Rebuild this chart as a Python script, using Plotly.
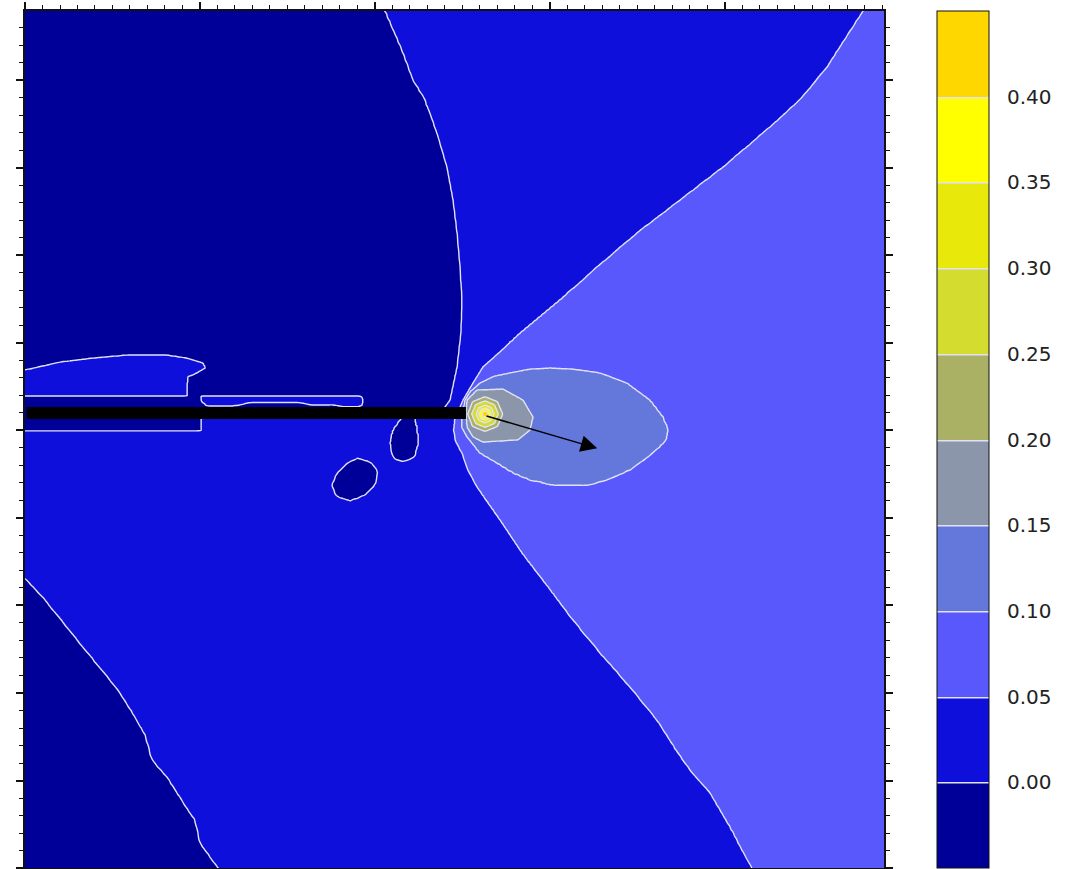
import numpy as np
import plotly.graph_objects as go

# ---------------- levels / colour bands ----------------
level_start, level_end, level_step = 0.00, 0.40, 0.05
z_lo, z_hi = -0.05, 0.45
cbar_ticks = [0.00, 0.05, 0.10, 0.15, 0.20, 0.25, 0.30, 0.35, 0.40]
band_values = [-0.025, 0.025, 0.075, 0.125, 0.175, 0.225, 0.275, 0.325, 0.375, 0.425]
band_colors = ['#000099', '#0f0fdc', '#5858fc', '#6478dc', '#8c96aa',
               '#aab064', '#d4dc30', '#e8e80a', '#ffff00', '#ffd700']
background_band = 1

# ---------------- region outlines (chart units) ----------------
upper_dark_u = [-1, 20.1, 20.57, 21.54, 22.17, 22.86, 23.54, 24.11, 24.46, 24.69, 24.86,
                24.97, 24.91, 24.69, 24.29, 24.0, 24.0, -1]
upper_dark_v = [50, 50, 48.97, 46.74, 45.03, 43.89, 42.0, 40.06, 38.17, 36.29, 34.34,
                32.46, 30.57, 28.63, 26.74, 26.34, 26.0, 26.0]

left_bump_u = [-1, 0, 2.0, 3.89, 5.83, 8.11, 9.26, 10.17, 10.29, 9.83, 9.31, 9.26, 9.26, -1]
left_bump_v = [28.46, 28.46, 28.91, 29.14, 29.31, 29.31, 29.14, 28.86, 28.57, 28.29, 28.06,
               27.6, 26.97, 26.97]

strip_u = [10.06, 19.14, 19.26, 19.3, 19.26, 19.1, 18.17, 17.71, 16.29, 15.71, 12.86, 12.29,
           11.86, 10.4, 10.06]
strip_v = [26.97, 26.97, 26.9, 26.7, 26.45, 26.36, 26.36, 26.46, 26.46, 26.6, 26.6, 26.46,
           26.4, 26.4, 26.7]

dark_box_u = [-1, 10.06, 10.06, -1]
dark_box_v = [26.97, 26.97, 24.97, 24.97]

island_a_u = [21.43, 21.43, 21.03, 20.86, 21.03, 21.6, 22.29, 22.46, 22.4, 22.29, 22.29]
island_a_v = [26.0, 25.6, 25.03, 24.29, 23.43, 23.2, 23.49, 24.29, 25.2, 25.6, 26.0]

island_b_u = [19.03, 19.83, 20.17, 20.0, 19.43, 18.57, 17.77, 17.54, 17.83, 18.4]
island_b_v = [23.43, 23.14, 22.63, 21.89, 21.31, 20.97, 21.26, 21.89, 22.57, 23.14]

lower_dark_u = [-1, 0, 1.14, 2.29, 3.43, 4.29, 5.31, 6.11, 6.86, 7.26, 8.11, 8.69, 9.31,
                9.71, 10.0, 10.4, 11.03, 11.2, -1]
lower_dark_v = [16.57, 16.57, 15.31, 13.89, 12.46, 11.43, 10.17, 8.91, 7.6, 6.17, 5.2, 4.29,
                3.31, 2.74, 1.43, 0.86, 0, -1, -1]

violet_u = [48.6, 47.89, 45.83, 44.29, 42.17, 39.89, 37.43, 34.97, 32.69, 30.57, 28.29, 27.26,
            26.17, 25.6, 25.03, 24.8, 24.55, 24.5, 24.6, 24.97, 25.31, 25.83, 27.14, 28.4,
            29.89, 31.31, 32.86, 34.57, 36.11, 37.31, 38.0, 39.14, 40.29, 40.97, 41.54, 42.1,
            51, 51]
violet_v = [50, 48.97, 45.77, 43.89, 42.0, 40.06, 38.17, 36.29, 34.34, 32.46, 30.57, 29.6,
            28.63, 27.71, 26.74, 26.2, 25.6, 25.0, 24.4, 23.71, 22.74, 21.77, 19.89, 18.0,
            16.06, 14.17, 12.29, 10.34, 8.46, 6.57, 5.6, 4.29, 2.34, 1.03, 0, -1, -1, 50]

ellipse_u = [25.15, 25.43, 26.0, 26.8, 27.71, 28.8, 30.0, 31.4, 32.86, 34.4, 35.71, 36.46,
             36.76, 36.6, 35.9, 34.57, 33.26, 32.1, 30.4, 28.86, 27.9, 26.97, 26.0, 25.26,
             24.95, 24.95]
ellipse_v = [26.74, 27.2, 27.71, 28.1, 28.29, 28.5, 28.57, 28.5, 28.29, 27.71, 26.74, 25.77,
             25.03, 24.4, 23.71, 22.74, 22.17, 21.85, 21.83, 22.17, 22.57, 23.14, 23.71, 24.63,
             25.2, 25.77]

gray_u = [25.2, 25.26, 25.83, 27.31, 28.46, 29.03, 28.86, 28.17, 26.17, 25.6, 25.26]
gray_v = [26.0, 26.74, 27.31, 27.37, 26.74, 25.77, 25.03, 24.46, 24.34, 24.63, 25.2]

olive_u = [27.3, 27.0, 26.29, 25.58, 25.3, 25.58, 26.29, 27.0]
olive_v = [25.94, 26.65, 26.93, 26.65, 25.94, 25.23, 24.95, 25.23]

yg_u = [27.05, 26.83, 26.29, 25.75, 25.53, 25.75, 26.29, 26.83]
yg_v = [25.94, 26.48, 26.7, 26.48, 25.94, 25.4, 25.18, 25.4]

lemon_u = [26.8, 26.65, 26.29, 25.93, 25.78, 25.93, 26.29, 26.65]
lemon_v = [25.94, 26.3, 26.45, 26.3, 25.94, 25.58, 25.43, 25.58]

yellow_u = [26.64, 26.54, 26.29, 26.04, 25.94, 26.04, 26.29, 26.54]
yellow_v = [25.94, 26.19, 26.29, 26.19, 25.94, 25.69, 25.59, 25.69]

gold_u = [26.47, 26.42, 26.29, 26.16, 26.11, 26.16, 26.29, 26.42]
gold_v = [25.94, 26.07, 26.12, 26.07, 25.94, 25.81, 25.76, 25.81]

# crack (black bar) and propagation arrow
crack_u = [0.1, 25.2]
crack_v = [25.66, 26.34]
arrow_tail = [26.29, 25.85]
arrow_head = [32.7, 23.98]

regions = [
    (upper_dark_u, upper_dark_v, 0),
    (left_bump_u, left_bump_v, 1),
    (strip_u, strip_v, 1),
    (dark_box_u, dark_box_v, 0),
    (island_a_u, island_a_v, 0),
    (island_b_u, island_b_v, 0),
    (lower_dark_u, lower_dark_v, 0),
    (violet_u, violet_v, 2),
    (ellipse_u, ellipse_v, 3),
    (gray_u, gray_v, 4),
    (olive_u, olive_v, 5),
    (yg_u, yg_v, 6),
    (lemon_u, lemon_v, 7),
    (yellow_u, yellow_v, 8),
    (gold_u, gold_v, 9),
]


def inside(pu, pv, X, Y):
    pu = np.asarray(pu, float)
    pv = np.asarray(pv, float)
    res = np.zeros(X.shape, bool)
    sel = (X >= pu.min()) & (X <= pu.max()) & (Y >= pv.min()) & (Y <= pv.max())
    xs, ys = X[sel], Y[sel]
    r = np.zeros(xs.shape, bool)
    n = len(pu)
    j = n - 1
    for i in range(n):
        xi, yi, xj, yj = pu[i], pv[i], pu[j], pv[j]
        if yi != yj:
            r ^= ((yi > ys) != (yj > ys)) & (xs < (xj - xi) * (ys - yi) / (yj - yi) + xi)
        j = i
    res[sel] = r
    return res


# sampling grid for the contour table (finer around the crack tip)
gx = np.concatenate([np.arange(-0.2, 23.0, 0.2), np.arange(23.0, 31.0, 0.08),
                     np.arange(31.0, 49.5, 0.2)])
gy = np.concatenate([np.arange(-0.2, 24.0, 0.2), np.arange(24.0, 30.0, 0.06),
                     np.arange(30.0, 49.3, 0.2)])
X, Y = np.meshgrid(gx, gy)
DX, DY = np.meshgrid(np.gradient(gx), np.gradient(gy))
vals = np.array(band_values)
sub = [-0.375, -0.125, 0.125, 0.375]
acc = np.zeros(X.shape)
for ox in sub:
    for oy in sub:
        Xs = X + ox * DX
        Ys = Y + oy * DY
        band = np.full(X.shape, background_band, dtype=int)
        for pu, pv, b in regions:
            band[inside(pu, pv, Xs, Ys)] = b
        acc += vals[band]
z = np.round(acc / len(sub) ** 2, 5)

fig = go.Figure()
fig.add_trace(go.Contour(
    x=np.round(gx, 4), y=np.round(gy, 4), z=z,
    zmin=z_lo, zmax=z_hi, zauto=False,
    autocontour=False,
    contours=dict(start=level_start, end=level_end, size=level_step,
                  coloring='fill', showlines=True),
    colorscale=[[i / (len(band_colors) - 1), c] for i, c in enumerate(band_colors)],
    line=dict(color='rgb(226,226,246)', width=1.4, smoothing=1),
    hoverinfo='skip',
    colorbar=dict(
        x=1.0617, xanchor='left', xpad=0, y=0.5, yanchor='middle', ypad=0,
        len=1, lenmode='fraction', thickness=52, thicknessmode='pixels',
        outlinewidth=1, outlinecolor='#111',
        tickmode='array', tickvals=cbar_ticks,
        ticktext=[f'{t:.2f}' for t in cbar_ticks],
        ticks='outside', ticklen=14, tickcolor='rgba(0,0,0,0)',
        tickfont=dict(family='DejaVu Sans', size=20, color='#222'),
    ),
))

fig.add_shape(type='rect', xref='x', yref='y',
              x0=crack_u[0], x1=crack_u[1], y0=crack_v[0], y1=crack_v[1],
              fillcolor='black', line=dict(width=0), layer='above')

fig.add_annotation(x=arrow_head[0], y=arrow_head[1], ax=arrow_tail[0], ay=arrow_tail[1],
                   xref='x', yref='y', axref='x', ayref='y', text='',
                   showarrow=True, arrowhead=2, arrowsize=2.2, arrowwidth=1.5,
                   arrowcolor='black', standoff=0)

axis_common = dict(showgrid=False, zeroline=False, showticklabels=False,
                   showline=True, linecolor='#111', linewidth=1.5, mirror='ticks',
                   ticks='outside', ticklen=7, tickwidth=1.5, tickcolor='#111',
                   minor=dict(dtick=1, ticks='outside', ticklen=4, tickwidth=1,
                              tickcolor='#111', showgrid=False))

fig.update_layout(
    width=1073, height=869,
    margin=dict(l=25, r=189, t=11, b=1, autoexpand=False),
    paper_bgcolor='white', plot_bgcolor='white',
    showlegend=False,
    xaxis=dict(range=[0, 49.09], tick0=0, dtick=10, **axis_common),
    yaxis=dict(range=[0, 48.97], tick0=0, dtick=5, **axis_common),
)

fig.write_html("out.html", config={'displayModeBar': False},
               post_script="document.body.style.margin='0px';")
